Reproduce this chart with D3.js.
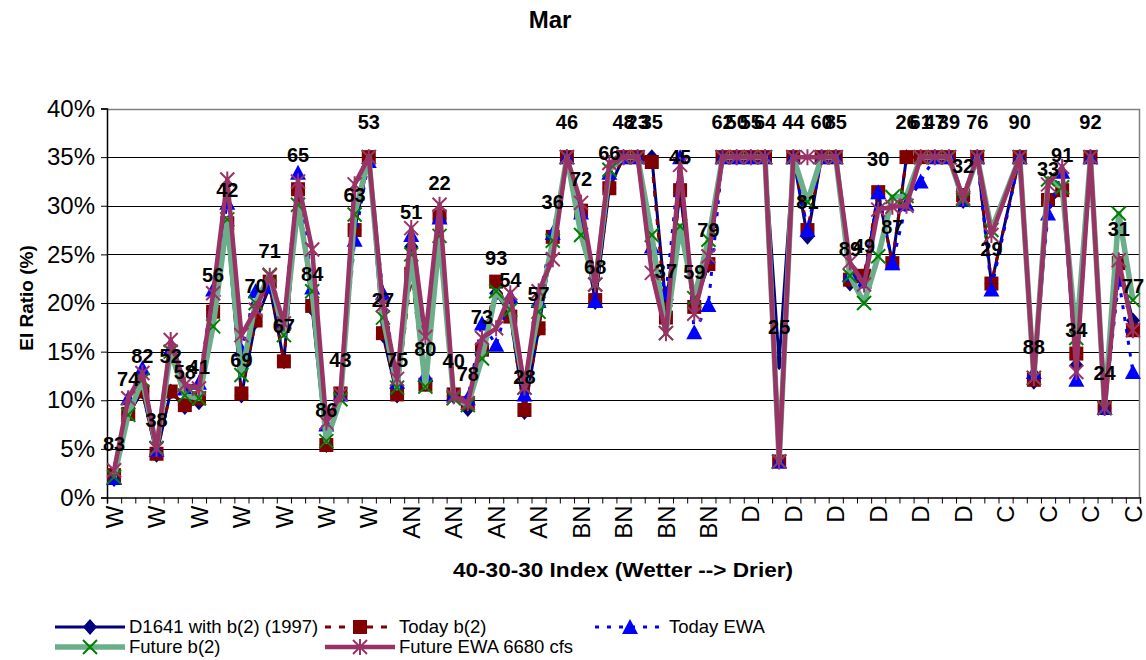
<!DOCTYPE html>
<html>
<head>
<meta charset="utf-8">
<title>Mar - EI Ratio</title>
<script src="https://d3js.org/d3.v7.min.js"></script>
<style>
  body { margin: 0; background: #fff; }
  svg text { font-family: "Liberation Sans", Arial, sans-serif; }
</style>
</head>
<body>
<div id="chart"></div>
<script>
// year labels (last two digits), sorted by 40-30-30 index, wetter -> drier
const years = ["83","74","82","38","52","58","41","56","42","69",
  "70","71","67","65","84","86","43","63","53","27",
  "75","51","80","22","40","78","73","93","54","28",
  "57","36","46","72","68","66","48","23","35","37",
  "45","59","79","62","50","55","64","25","44","81",
  "60","85","89","49","30","87","26","61","47","39",
  "32","76","29","","90","88","33","91","34","92",
  "24","31","77"];

const yearType = ["W","W","W","W","W","W","W","W","W","W",
  "W","W","W","W","W","W","W","W","W","W",
  "W","AN","AN","AN","AN","AN","AN","AN","AN","AN",
  "AN","AN","AN","BN","BN","BN","BN","BN","BN","BN",
  "BN","BN","BN","BN","BN","D","D","D","D","D",
  "D","D","D","D","D","D","D","D","D","D",
  "D","D","D","C","C","C","C","C","C","C",
  "C","C","C"];

// EI ratio, percent
const d1641 = [1.9,8.6,10.9,4.4,10.9,9.3,9.8,19.3,28.0,10.5,
  18.1,21.7,14.0,31.6,19.4,5.4,10.5,27.5,35,16.7,
  10.5,25.8,11.7,28.7,10.4,9.1,15.0,21.0,18.8,8.8,
  17.3,26.8,35,29.2,20.1,31.8,35,35,35,19.7,
  31.4,19.6,23.9,35,35,35,35,13.9,35,26.8,
  35,35,22.0,22.3,31.2,24.2,35,35,35,35,
  30.5,35,22.0,null,35,11.9,30.2,31.6,13.6,35,
  9.2,24.0,18.2];

const todayB2 = [2.3,8.6,10.9,4.5,10.9,9.5,10.2,19.1,28.2,10.7,
  18.2,22.2,14.0,31.7,19.7,5.4,10.7,27.5,35,16.9,
  10.6,23.0,11.6,28.9,10.6,9.7,15.2,22.2,18.6,9.0,
  17.4,26.8,35,29.5,20.3,31.8,35,35,34.5,18.5,
  31.6,19.6,24.0,35,35,35,35,3.7,35,27.5,
  35,35,22.4,22.8,31.4,24.1,35,35,35,35,
  31.1,35,22.0,null,35,12.1,30.6,31.6,14.8,35,
  9.2,24.1,17.2];

const todayEWA = [2.0,10.2,13.3,4.9,15.3,11.2,11.8,21.4,30.3,15.2,
  21.2,21.7,18.1,33.4,21.6,7.5,10.6,26.5,34.6,21.0,
  11.9,27.0,12.6,28.8,10.6,10.2,17.9,15.7,20.7,10.6,
  20.2,27.2,35,29.3,20.2,33.4,35,35,25.8,21.0,
  35,17.0,19.8,35,35,35,35,3.7,35,27.5,
  35,35,22.9,22.2,31.4,24.1,30.2,32.5,35,35,
  30.6,35,21.4,null,35,12.9,29.2,33.5,12.1,35,
  9.2,22.4,12.9];

const futureB2 = [2.1,8.5,12.1,5.1,15.0,10.5,10.2,17.6,28.6,12.6,
  20.0,22.9,16.7,30.1,21.2,5.8,10.1,29.1,35,18.5,
  11.3,25.0,11.4,26.9,10.2,9.5,14.3,21.2,19.3,11.3,
  19.1,26.4,35,27.0,21.9,33.7,35,35,27.0,16.9,
  27.9,20.5,26.5,35,35,35,35,3.7,35,30.4,
  35,35,22.8,20.0,24.8,30.9,31.0,35,35,35,
  30.6,35,27.5,null,35,12.3,32.7,31.9,16.4,35,
  9.2,29.2,20.3];

const futureEWA = [2.8,10.2,12.8,5.0,16.2,11.6,11.2,21.0,32.7,16.7,
  19.3,22.8,17.9,32.5,25.5,7.7,10.6,32.2,35,19.8,
  12.2,27.7,16.5,30.1,10.4,9.7,16.4,17.4,21.0,11.3,
  21.2,24.5,35,30.3,21.9,34.4,35,35,23.1,16.9,
  34.2,18.9,24.8,35,35,35,35,3.7,35,35,
  35,35,24.2,21.9,29.6,29.9,30.0,35,35,35,
  30.8,35,27.0,null,35,12.3,32.2,34.0,12.9,35,
  9.2,24.4,17.2];

const yTicks = [0,5,10,15,20,25,30,35,40];

const series = [
  { name: "D1641 with b(2) (1997)", values: d1641, color: "#000080", width: 3, dash: null, marker: "diamond" },
  { name: "Today b(2)", values: todayB2, color: "#800000", width: 3, dash: "6,8", marker: "square" },
  { name: "Today EWA", values: todayEWA, color: "#0000ff", width: 3, dash: "4,8", marker: "triangle" },
  { name: "Future b(2)", values: futureB2, color: "#6aae8a", width: 5.5, dash: null, marker: "x", markerColor: "#008000" },
  { name: "Future EWA 6680 cfs", values: futureEWA, color: "#993366", width: 4.5, dash: null, marker: "star" }
];

const width = 1146, height = 660;
const plotLeft = 107, plotRight = 1140, plotTop = 108.5, plotBottom = 497.5;

const svg = d3.select("#chart").append("svg")
  .attr("width", width)
  .attr("height", height);

const x = d3.scaleBand().domain(d3.range(years.length)).range([plotLeft, plotRight]);
const cx = i => x(i) + x.bandwidth() / 2;
const y = d3.scaleLinear().domain([0, 40]).range([plotBottom, plotTop]);

// title
svg.append("text")
  .attr("x", 550).attr("y", 28)
  .attr("text-anchor", "middle")
  .attr("font-size", 24).attr("font-weight", "bold")
  .text("Mar");

// gridlines
svg.append("g")
  .selectAll("line")
  .data(yTicks.filter(d => d > 0 && d < 40))
  .join("line")
  .attr("x1", plotLeft).attr("x2", plotRight)
  .attr("y1", d => Math.round(y(d)) + 0.5).attr("y2", d => Math.round(y(d)) + 0.5)
  .attr("stroke", "#000").attr("stroke-width", 1);

// plot border (top/right gray)
svg.append("path")
  .attr("d", `M${plotLeft},${Math.round(plotTop) + 0.5}H${plotRight - 0.5}V${plotBottom}`)
  .attr("fill", "none").attr("stroke", "#808080").attr("stroke-width", 1.5);

// y axis
const yAxis = svg.append("g")
  .attr("transform", `translate(${plotLeft},0)`)
  .call(d3.axisLeft(y).tickValues(yTicks).tickSize(6).tickFormat(d => d + "%"));
yAxis.attr("font-family", null).attr("font-size", null);
yAxis.selectAll("text").attr("font-size", 24).attr("fill", "#000").attr("dx", "-3");
yAxis.selectAll("line,path").attr("stroke", "#000");
yAxis.select(".domain").attr("stroke-width", 1.5);

// x axis ticks between categories
const xTickScale = d3.scaleLinear().domain([0, years.length]).range([plotLeft, plotRight]);
const xAxis = svg.append("g")
  .attr("transform", `translate(0,${plotBottom})`)
  .call(d3.axisBottom(xTickScale).tickValues(d3.range(years.length + 1)).tickSize(6).tickFormat(""));
xAxis.selectAll("line,path").attr("stroke", "#000");
xAxis.select(".domain").attr("stroke-width", 1.5);

// category labels, every third
svg.append("g")
  .selectAll("text")
  .data(d3.range(0, years.length, 3))
  .join("text")
  .attr("transform", i => `translate(${cx(i)},${plotBottom + 8}) rotate(-90)`)
  .attr("text-anchor", "end")
  .attr("dy", "0.36em")
  .attr("font-size", 24)
  .text(i => yearType[i]);

// axis titles
svg.append("text")
  .attr("x", 623).attr("y", 577)
  .attr("text-anchor", "middle")
  .attr("font-size", 20).attr("font-weight", "bold")
  .attr("textLength", 340).attr("lengthAdjust", "spacingAndGlyphs")
  .text("40-30-30 Index (Wetter --> Drier)");

svg.append("text")
  .attr("transform", "translate(33,298) rotate(-90)")
  .attr("text-anchor", "middle")
  .attr("font-size", 19).attr("font-weight", "bold")
  .text("EI Ratio (%)");

// marker shapes
function markerPath(type) {
  switch (type) {
    case "diamond": return "M0,-8L7,0L0,8L-7,0Z";
    case "square": return "M-7,-7H7V7H-7Z";
    case "triangle": return "M0,-8L8,7H-8Z";
    case "x": return "M-7,-7L7,7M-7,7L7,-7";
    case "star": return "M-7,-7L7,7M-7,7L7,-7M0,-8V8";
  }
}

function drawMarker(sel, s) {
  const filled = s.marker === "diamond" || s.marker === "square" || s.marker === "triangle";
  sel.attr("d", markerPath(s.marker))
    .attr("fill", filled ? s.color : "none")
    .attr("stroke", filled ? "none" : (s.markerColor || s.color))
    .attr("stroke-width", filled ? 0 : 2);
}

const line = d3.line()
  .x(d => cx(d.i))
  .y(d => y(d.v));

// series, drawn in order
series.forEach(s => {
  const pts = s.values.map((v, i) => ({ i, v })).filter(d => d.v != null);
  const g = svg.append("g");
  g.append("path")
    .datum(pts)
    .attr("d", line)
    .attr("fill", "none")
    .attr("stroke", s.color)
    .attr("stroke-width", s.width)
    .attr("stroke-linejoin", "round")
    .attr("stroke-dasharray", s.dash);
  g.selectAll("path.m")
    .data(pts)
    .join("path")
    .attr("class", "m")
    .attr("transform", d => `translate(${cx(d.i)},${y(d.v)})`)
    .call(drawMarker, s);
});

// year data labels above the D1641 series
svg.append("g")
  .selectAll("text")
  .data(d1641.map((v, i) => ({ i, v })).filter(d => d.v != null && years[d.i] !== ""))
  .join("text")
  .attr("x", d => cx(d.i))
  .attr("y", d => y(d.v) - 28)
  .attr("text-anchor", "middle")
  .attr("font-size", 20).attr("font-weight", "bold")
  .text(d => years[d.i]);

// legend
const legendPos = [[55, 627], [325, 627], [595, 627], [55, 647], [325, 647]];
series.forEach((s, k) => {
  const [lx, ly] = legendPos[k];
  const g = svg.append("g").attr("transform", `translate(${lx},${ly})`);
  g.append("line")
    .attr("x1", 0).attr("x2", 70)
    .attr("stroke", s.color)
    .attr("stroke-width", s.width)
    .attr("stroke-dasharray", s.dash);
  g.append("path")
    .attr("transform", "translate(35,0)")
    .call(drawMarker, s);
  g.append("text")
    .attr("x", 74).attr("dy", "0.35em")
    .attr("font-size", 18.5)
    .text(s.name);
});
</script>
</body>
</html>
